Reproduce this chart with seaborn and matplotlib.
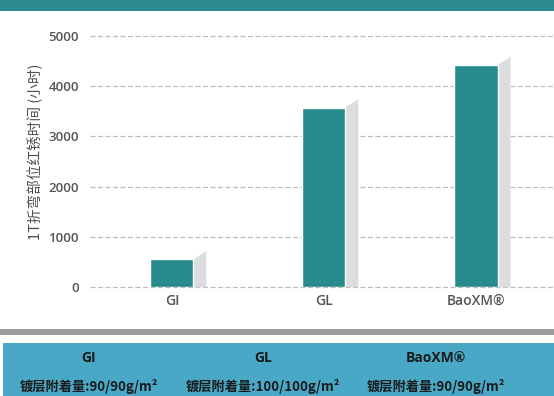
import matplotlib
matplotlib.use("Agg")
import matplotlib.pyplot as plt
from matplotlib.patches import Polygon, Rectangle
import seaborn as sns
import pandas as pd

# ---- data ----
categories = ["GI", "GL", "BaoXM®"]
hours = [552, 3575, 4420]
yticks = [0, 1000, 2000, 3000, 4000, 5000]
ylabel = "1T折弯部位红锈时间 (小时)"
panel_names = ["GI", "GL", "BaoXM®"]
panel_coating = ["镀层附着量:90/90g/m²", "镀层附着量:100/100g/m²", "镀层附着量:90/90g/m²"]

sns.set_theme(style="white")
plt.rcParams["font.family"] = ["Open Sans", "Noto Sans CJK SC", "DejaVu Sans"]

W, H = 554, 396
fig = plt.figure(figsize=(W / 100, H / 100), dpi=100)
fig.patch.set_facecolor("white")

ax = fig.add_axes([90 / W, 109 / H, 464 / W, 251 / H])
df = pd.DataFrame({"cat": categories, "val": hours})
sns.barplot(data=df, x="cat", y="val", color="#278b8d", saturation=1,
            width=0.283, ax=ax, zorder=3)

# 3D side shading derived from bars
dx, rise = 0.085, 165
for p in ax.patches:
    x0 = p.get_x() + p.get_width()
    h = p.get_height()
    ax.add_patch(Polygon([(x0, 0), (x0 + dx, 0), (x0 + dx, h + rise), (x0, h)],
                         closed=True, facecolor="#dcdddf", edgecolor="none", zorder=2))

ax.set_xlim(-0.539, 2.513)
ax.set_ylim(0, 5000)
ax.set_yticks(yticks)
ax.set_yticklabels([str(t) for t in yticks])
ax.yaxis.grid(True, linestyle=(0, (4, 2)), color="#bdbdbd", linewidth=0.9, zorder=0)
for gl in ax.get_ygridlines():
    gl.set_clip_on(False)
ax.set_axisbelow(True)
for s in ax.spines.values():
    s.set_visible(False)
ax.set_xlabel("")
ax.set_ylabel("")
ax.tick_params(axis="y", length=0, pad=8, labelsize=9.5, labelcolor="#555555")
ax.tick_params(axis="x", length=0, pad=5, labelsize=10, labelcolor="#555555")
for lab in ax.get_yticklabels() + ax.get_xticklabels():
    lab.set_fontweight(600)
ax.patch.set_alpha(0)

fig.text(35 / W, 1 - 152 / H, ylabel, rotation=90, ha="center", va="center",
         fontsize=10.5, color="#505050", fontweight="medium",
         family=["Noto Sans CJK SC", "DejaVu Sans"])

# top band
fig.patches.append(Rectangle((0, 1 - 11 / H), 1, 11 / H, transform=fig.transFigure,
                             facecolor="#2b8b90", edgecolor="none", zorder=0))
# gray separator
fig.patches.append(Rectangle((0, (H - 335) / H), 1, 6 / H, transform=fig.transFigure,
                             facecolor="#9b9b9b", edgecolor="none", zorder=0))
# bottom blue panel
fig.patches.append(Rectangle((3 / W, 0), 1, (H - 343) / H, transform=fig.transFigure,
                             facecolor="#4aa8c7", edgecolor="none", zorder=0))

xs = [89 / W, 263 / W, 436 / W]
for x, n, c in zip(xs, panel_names, panel_coating):
    fig.text(x, 1 - 358 / H, n, ha="center", va="center", fontsize=10,
             fontweight="bold", color="#1a1a1a",
             family=["Open Sans", "Noto Sans CJK SC", "DejaVu Sans"])
    fig.text(x, 1 - 386 / H, c, ha="center", va="center", fontsize=9.5,
             fontweight="bold", color="#1a1a1a",
             family=["Noto Sans CJK SC", "DejaVu Sans"])

fig.savefig("out.png", dpi=100)
